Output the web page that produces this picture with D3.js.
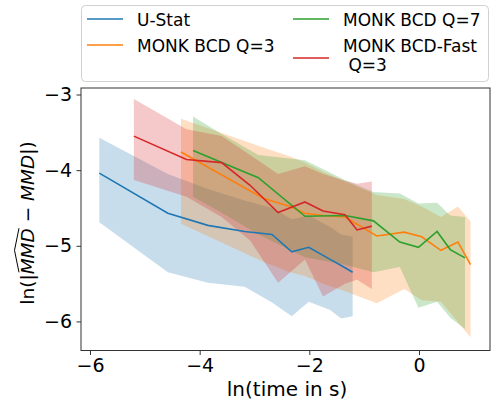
<!DOCTYPE html>
<html>
<head>
<meta charset="utf-8">
<script src="https://cdn.jsdelivr.net/npm/d3@7"></script>
<style>
body { margin: 0; background: #fff; }
text { font-family: "DejaVu Sans", sans-serif; fill: #000; }
</style>
</head>
<body>
<svg id="chart" width="494" height="408"></svg>
<script>
// values (ln time, ln error, band edges)
const uStatX    = [-5.83, -4.58, -3.85, -3.18, -2.68, -2.32, -2.01, -1.62, -1.42, -1.21];
const uStatMean = [-4.04, -4.57, -4.73, -4.81, -4.85, -5.08, -5.02, -5.18, -5.26, -5.35];
const uStatHi   = [-3.57, -4.05, -4.25, -4.40, -4.50, -4.65, -4.60, -4.75, -4.85, -4.88];
const uStatLo   = [-4.69, -5.35, -5.49, -5.54, -5.75, -5.93, -5.74, -5.85, -5.96, -5.93];

const q3X    = [-4.34, -2.84, -2.35, -2.08, -1.75, -1.35, -0.77, -0.27, 0.05, 0.40, 0.71, 0.94];
const q3Mean = [-3.76, -4.37, -4.48, -4.57, -4.60, -4.62, -4.87, -4.82, -4.88, -5.06, -4.95, -5.25];
const q3Hi   = [-3.32, -3.70, -3.82, -3.90, -4.02, -4.15, -4.33, -4.38, -4.48, -4.62, -4.48, -4.68];
const q3Lo   = [-4.71, -5.21, -5.35, -5.40, -5.50, -5.60, -5.76, -5.57, -5.72, -5.74, -6.01, -6.21];

const q7X    = [-4.12, -3.63, -2.93, -2.08, -1.35, -0.83, -0.35, -0.01, 0.33, 0.57, 0.84];
const q7Mean = [-3.74, -3.89, -4.10, -4.61, -4.60, -4.67, -4.95, -5.02, -4.81, -5.05, -5.16];
const q7Hi   = [-3.29, -3.51, -3.80, -3.87, -4.13, -4.29, -4.31, -4.44, -4.43, -4.60, -4.62];
const q7Lo   = [-4.35, -4.55, -4.85, -5.15, -5.25, -5.35, -5.28, -5.82, -5.74, -5.95, -6.10];

const fastX    = [-5.20, -4.24, -3.60, -3.08, -2.57, -2.08, -1.75, -1.35, -1.13, -0.86];
const fastMean = [-3.55, -3.86, -3.90, -4.20, -4.56, -4.42, -4.54, -4.59, -4.79, -4.74];
const fastHi   = [-3.06, -3.46, -3.55, -3.80, -4.05, -3.95, -4.05, -4.14, -4.18, -4.15];
const fastLo   = [-4.13, -4.35, -4.62, -4.93, -5.49, -5.18, -5.67, -5.50, -5.45, -5.57];

const names  = ["U-Stat", "MONK BCD Q=3", "MONK BCD Q=7", "MONK BCD-Fast\n Q=3"];
const colors = ["#1f77b4", "#ff7f0e", "#2ca02c", "#d62728"];
const xTicks = [-6, -4, -2, 0];
const yTicks = [-3, -4, -5, -6];

const series = [
  [uStatX, uStatMean, uStatLo, uStatHi],
  [q3X, q3Mean, q3Lo, q3Hi],
  [q7X, q7Mean, q7Lo, q7Hi],
  [fastX, fastMean, fastLo, fastHi]
].map((s, i) => ({
  name: names[i],
  color: colors[i],
  pts: s[0].map((v, j) => ({ x: v, m: s[1][j], lo: s[2][j], hi: s[3][j] }))
}));

const pLeft = 81, pRight = 490, pTop = 88, pBottom = 350.5;
const x = d3.scaleLinear().domain([-6.164, 1.295]).range([pLeft, pRight]);
const y = d3.scaleLinear().domain([-2.914, -6.384]).range([pTop, pBottom]);

const svg = d3.select("#chart");

svg.append("clipPath").attr("id", "plot")
  .append("rect").attr("x", pLeft).attr("y", pTop)
  .attr("width", pRight - pLeft).attr("height", pBottom - pTop);

const area = d3.area().x(d => x(d.x)).y0(d => y(d.lo)).y1(d => y(d.hi));
const line = d3.line().x(d => x(d.x)).y(d => y(d.m));

const plot = svg.append("g").attr("clip-path", "url(#plot)");

plot.selectAll("path.band")
  .data(series)
  .enter()
  .append("path")
  .attr("class", "band")
  .attr("d", d => area(d.pts))
  .attr("fill", d => d.color)
  .attr("fill-opacity", 0.25)
  .attr("stroke", "none");

plot.selectAll("path.mean")
  .data(series)
  .enter()
  .append("path")
  .attr("class", "mean")
  .attr("d", d => line(d.pts))
  .attr("fill", "none")
  .attr("stroke", d => d.color)
  .attr("stroke-width", 1.6);

// axes
const xAxis = svg.append("g")
  .attr("transform", `translate(0,${pBottom})`)
  .call(d3.axisBottom(x).tickValues(xTicks).tickFormat(d3.format("d")).tickSize(4.5).tickPadding(4));
const yAxis = svg.append("g")
  .attr("transform", `translate(${pLeft},0)`)
  .call(d3.axisLeft(y).tickValues(yTicks).tickFormat(d3.format("d")).tickSize(4.5).tickPadding(4.5));

[xAxis, yAxis].forEach(a => {
  a.select(".domain").remove();
  a.selectAll("line").attr("stroke", "#333");
  a.selectAll("text").attr("font-size", "19px").attr("font-family", "DejaVu Sans").attr("fill", "#000");
});

svg.append("rect")
  .attr("x", pLeft).attr("y", pTop)
  .attr("width", pRight - pLeft).attr("height", pBottom - pTop)
  .attr("fill", "none").attr("stroke", "#333").attr("stroke-width", 1);

// x label
svg.append("text")
  .attr("x", 287).attr("y", 396)
  .attr("text-anchor", "middle")
  .attr("font-size", "20px")
  .text("ln(time in s)");

// y label: ln(|MMD^ - MMD|), laid out piece by piece
const yl = svg.append("g").attr("transform", "translate(34,223) rotate(-90)");
const parts = [
  { t: "ln(|", it: false },
  { t: "MMD", it: true, hat: true },
  { t: " \u2212 ", it: false },
  { t: "MMD", it: true },
  { t: "|)", it: false }
];
let cx = 0;
const placed = parts.map(p => {
  const el = yl.append("text")
    .attr("x", cx).attr("y", 0)
    .attr("font-size", "18.5px")
    .attr("font-style", p.it ? "oblique" : "normal")
    .style("white-space", "pre")
    .text(p.t);
  const w = el.node().getComputedTextLength();
  const out = { el, x0: cx, w, hat: p.hat };
  cx += w;
  return out;
});
const shift = -cx / 2;
placed.forEach(p => {
  p.el.attr("x", p.x0 + shift);
  if (p.hat) {
    const a = p.x0 + shift + 2, b = p.x0 + shift + p.w;
    const m = (a + b) / 2;
    yl.append("path")
      .attr("d", `M${a},-15 L${m},-19.5 L${b},-15`)
      .attr("fill", "none").attr("stroke", "#000").attr("stroke-width", 1);
  }
});

// legend
const lg = svg.append("g");
lg.append("rect")
  .attr("x", 81.5).attr("y", 5.5).attr("width", 407).attr("height", 76)
  .attr("rx", 4).attr("fill", "#fff").attr("fill-opacity", 0.8)
  .attr("stroke", "#d0d0d0").attr("stroke-width", 1);

const legPos = [
  { lx: 87, ly: 19, tx: 137, ty: 26 },
  { lx: 87, ly: 45, tx: 137, ty: 52 },
  { lx: 293, ly: 19, tx: 343, ty: 26 },
  { lx: 293, ly: 58, tx: 343, ty: 52 }
];
series.forEach((s, i) => {
  const p = legPos[i];
  lg.append("line")
    .attr("x1", p.lx).attr("x2", p.lx + 36)
    .attr("y1", p.ly).attr("y2", p.ly)
    .attr("stroke", s.color).attr("stroke-width", 1.6);
  const t = lg.append("text").attr("font-size", "17px").style("white-space", "pre");
  s.name.split("\n").forEach((ln, k) => {
    t.append("tspan").attr("x", p.tx).attr("y", p.ty + k * 19).text(ln);
  });
});
</script>
</body>
</html>
